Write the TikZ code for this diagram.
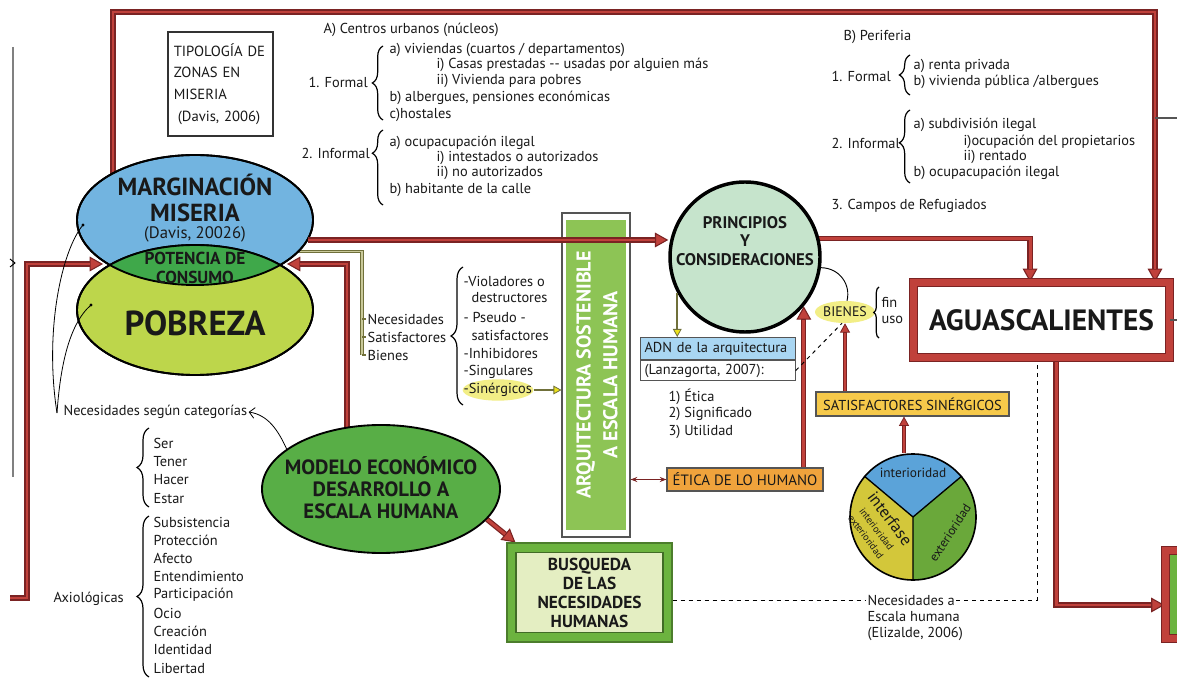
\documentclass[tikz,border=0pt]{standalone}
\usepackage{fontspec}
\setmainfont{PT Sans}
\usetikzlibrary{arrows.meta,decorations.pathreplacing,shapes.geometric,backgrounds}

\definecolor{rojo}{HTML}{C0413B}
\definecolor{rojoosc}{HTML}{7A2323}
\definecolor{azulmar}{HTML}{72B4E0}
\definecolor{verdepob}{HTML}{BDD64B}
\definecolor{verdecons}{HTML}{3FA84A}
\definecolor{verdemod}{HTML}{58AE46}
\definecolor{verdeprin}{HTML}{C6E4CC}
\definecolor{verdearq}{HTML}{8DC455}
\definecolor{verdecaja}{HTML}{6CB33F}
\definecolor{verdeclaro}{HTML}{E4EEC2}
\definecolor{olivo}{HTML}{70703A}
\definecolor{olivoclaro}{HTML}{C9C99A}
\definecolor{azuladn}{HTML}{A9D6F2}
\definecolor{naranja}{HTML}{F0A33C}
\definecolor{amarillo}{HTML}{F6C94A}
\definecolor{amarillob}{HTML}{F2EE86}
\definecolor{azulsec}{HTML}{5BA3D9}
\definecolor{amarillosec}{HTML}{D3C73A}
\definecolor{verdesec}{HTML}{6AA83A}
\definecolor{grisl}{HTML}{555555}

\begin{document}
\begin{tikzpicture}[x=0.75pt, y=0.75pt, font=\fontsize{10.8}{13}\selectfont, text=black!90,
  txt/.style={anchor=west, inner sep=1pt},
  caja/.style={draw=grisl, line width=0.8pt, inner sep=2pt},
  llave/.style={decorate, decoration={brace, amplitude=#1}, line width=0.9pt},
  llave/.default=8pt,
  flecha/.style={draw=rojoosc, line width=4pt, line join=miter,
    -{Triangle[length=10pt, width=11pt, line width=0.8pt, fill=rojo]},
    postaction={draw=rojo, line width=2.2pt, line join=miter, shorten >=10pt, arrows=-}},
  flechafina/.style={draw=rojoosc, line width=2.6pt,
    -{Triangle[length=7pt, width=7.5pt, line width=0.6pt, fill=rojo]},
    postaction={draw=rojo, line width=1.1pt, shorten >=7pt, arrows=-}},
  olivolinea/.style={draw=olivo, line width=2.4pt, line join=miter,
    postaction={draw=olivoclaro, line width=0.9pt}},
  olivoflecha/.style={draw=olivo, line width=1.8pt,
    -{Triangle[length=6pt, width=6.5pt, line width=0.6pt, fill=yellow!85!olivo]}},
  punteada/.style={dashed, line width=0.7pt}]
\useasboundingbox (0,0) rectangle (1177,-680);

% Tipología de zonas en miseria
\node[draw=black!80, line width=2.2pt, minimum width=78.75pt, minimum height=78pt,
  align=left, text width=70pt, inner xsep=3pt, font=\fontsize{11}{16.3}\selectfont] (tipo) at (220.5,-84)
  {TIPOLOGÍA DE\\ZONAS EN\\MISERIA\\\hspace*{3pt}(Davis, 2006)};

% A) Centros urbanos
\node[txt] (cenA) at (322,-30) {A) Centros urbanos (núcleos)};
\node[txt] (forA) at (307,-82) {1. Formal};
\node[txt] (forA1) at (388,-50) {a) viviendas (cuartos / departamentos)};
\node[txt] (forA2) at (435,-65) {i) Casas prestadas -{}- usadas por alguien más};
\node[txt] (forA3) at (435,-81) {ii) Vivienda para pobres};
\node[txt] (forA4) at (388,-98) {b) albergues, pensiones económicas};
\node[txt] (forA5) at (388,-115) {c)hostales};
\draw[llave] (383,-120) -- (383,-46);
\node[txt] (infA) at (300,-153) {2. Informal};
\node[txt] (infA1) at (388,-143) {a) ocupacupación ilegal};
\node[txt] (infA2) at (435,-158) {i) intestados o autorizados};
\node[txt] (infA3) at (435,-173) {ii) no autorizados};
\node[txt] (infA4) at (388,-190) {b) habitante de la calle};
\draw[llave, decoration={aspect=0.69}] (383,-205) -- (383,-130);

% B) Periferia
\node[txt] (cenB) at (842,-37) {B) Periferia};
\node[txt] (forB) at (830,-76) {1. Formal};
\node[txt] (forB1) at (912,-66) {a) renta privada};
\node[txt] (forB2) at (912,-82) {b) vivienda pública /albergues};
\draw[llave] (910,-95) -- (910,-55);
\node[txt] (infB) at (830,-143) {2. Informal};
\node[txt] (infB1) at (912,-125) {a) subdivisión ilegal};
\node[txt] (infB2) at (962,-142) {i)ocupación del propietarios};
\node[txt] (infB3) at (962,-157) {ii) rentado};
\node[txt] (infB4) at (912,-173) {b) ocupacupación ilegal};
\draw[llave, decoration={aspect=0.55}] (910,-183) -- (910,-110);
\node[txt] (refB) at (830,-206) {3. Campos de Refugiados};

% Marginación / Pobreza
\node[ellipse, draw, line width=1.4pt, fill=azulmar, minimum width=177pt, minimum height=97.5pt, inner sep=0] (marg) at (195,-220) {};
\node[ellipse, draw, line width=1.4pt, fill=verdepob, minimum width=177pt, minimum height=97.5pt, inner sep=0] (pob) at (195,-310) {};
\begin{scope}
  \clip (marg.center) ellipse [x radius=118, y radius=65];
  \fill[verdecons] (pob.center) ellipse [x radius=118, y radius=65];
\end{scope}
\draw[line width=1.4pt] (marg.center) ellipse [x radius=118, y radius=65]
  (pob.center) ellipse [x radius=118, y radius=65];
\node[font=\fontsize{18.5}{19}\selectfont\bfseries, align=center] (margt) at (195,-198) {MARGINACIÓN\\MISERIA};
\node[font=\fontsize{12.5}{14}\selectfont] (davis) at (195,-234) {(Davis, 20026)};
\node[font=\fontsize{13}{14.3}\selectfont\bfseries, align=center] (pot) at (195,-268) {POTENCIA DE\\CONSUMO};
\node[font=\fontsize{26}{28}\selectfont\bfseries] (pobt) at (195,-323) {POBREZA};

% Necesidades, satisfactores, bienes
\node[txt] (necs) at (366,-319) {Necesidades};
\node[txt] (satf) at (366,-337) {Satisfactores};
\node[txt] (bien) at (366,-355) {Bienes};
\draw[llave=9pt] (463,-405) -- (463,-267);
\node[txt] (viol) at (462,-281) {-Violadores o};
\node[txt] (dest) at (470,-298) {destructores};
\node[txt] (pseu) at (462,-317) {- Pseudo -};
\node[txt] (psat) at (470,-335) {satisfactores};
\node[txt] (inhi) at (462,-353) {-Inhibidores};
\node[txt] (sing) at (462,-372) {-Singulares};
\node[ellipse, fill=amarillob, minimum width=53pt, minimum height=16pt, inner sep=0] (sin) at (498,-390) {};
\node[txt] (sint) at (462,-390) {-Sinérgicos};

% Principios y consideraciones
\node[circle, draw, line width=2.6pt, fill=verdeprin, minimum size=112.5pt, inner sep=0] (prin) at (745,-257) {};
\node[font=\fontsize{12.6}{14}\selectfont\bfseries, align=center] (print) at (745,-241) {PRINCIPIOS\\Y\\CONSIDERACIONES};

% Arquitectura sostenible
\node[draw=grisl, line width=0.8pt, fill=white, minimum width=51pt, minimum height=243pt, inner sep=0] (arq) at (596,-375) {};
\node[fill=verdearq, minimum width=45pt, minimum height=233pt, inner sep=0] (arqin) at (arq.center) {};
\node[rotate=90, font=\fontsize{15}{20}\selectfont\bfseries, text=white, align=center] (arqt) at (597,-375) {ARQUITECTURA SOSTENIBLE\\A ESCALA HUMANA};

% ADN de la arquitectura
\node[caja, fill=azuladn, anchor=north west, text width=110pt, minimum height=16.5pt, inner xsep=3pt, align=left] (adn1) at (640,-337) {ADN de la arquitectura};
\node[caja, fill=white, anchor=north west, text width=110pt, minimum height=15pt, inner xsep=3pt, align=left] (adn2) at (adn1.south west) {(Lanzagorta, 2007):};
\node[txt] (eti1) at (667,-397) {1) Ética};
\node[txt] (eti2) at (667,-414) {2) Significado};
\node[txt] (eti3) at (667,-432) {3) Utilidad};

% Bienes: fin / uso
\node[ellipse, fill=amarillob, minimum width=45pt, minimum height=16.5pt, inner sep=0] (bienes) at (845,-312) {};
\node[font=\fontsize{10.4}{12}\selectfont] (bienest) at (bienes.center) {BIENES};
\draw[llave=4pt] (879,-338) -- (879,-287);
\node[txt] (fin) at (880,-302) {fin};
\node[txt] (uso) at (880,-320) {uso};

% Satisfactores y ética
\node[caja, fill=amarillo, minimum width=144.75pt, minimum height=18pt, font=\fontsize{10.8}{12}\selectfont] (satsin) at (912.5,-404) {SATISFACTORES SINÉRGICOS};
\node[caja, fill=naranja, minimum width=117pt, minimum height=17.25pt, font=\fontsize{11.2}{13}\selectfont] (etica) at (745,-479.5) {ÉTICA DE LO HUMANO};

% Círculo interioridad / exterioridad
\coordinate (cc) at (913,-517);
\fill[azulsec] (cc) -- ++(40:63) arc[start angle=40, end angle=140, radius=63] -- cycle;
\fill[amarillosec] (cc) -- ++(140:63) arc[start angle=140, end angle=270, radius=63] -- cycle;
\fill[verdesec] (cc) -- ++(270:63) arc[start angle=270, end angle=400, radius=63] -- cycle;
\node[circle, draw, line width=1.2pt, minimum size=94.5pt, inner sep=0] (circ) at (cc) {};
\draw[line width=1pt] (circ.40) -- (circ.center) -- (circ.140) (circ.center) -- (circ.south);
\node[font=\fontsize{10}{12}\selectfont] (inte) at (913,-473) {interioridad};
\node[rotate=-53, align=center, inner sep=0] (ifase) at (879,-527)
  {{\fontsize{12.5}{12}\selectfont interfase}\\[-2pt]{\fontsize{7.5}{7}\selectfont interioridad}\\[-3pt]{\fontsize{7.5}{7}\selectfont exterioridad}};
\node[rotate=57, font=\fontsize{9.5}{11}\selectfont] (exte) at (950,-533) {exterioridad};

% Aguascalientes
\node[draw=rojoosc, double=rojo, double distance=5.25pt, line width=0.75pt, fill=white, minimum width=192pt, minimum height=56.25pt, font=\fontsize{22}{24}\selectfont\bfseries] (agua) at (1041.5,-320) {AGUASCALIENTES};
\node[draw=rojoosc, double=rojo, double distance=5.25pt, line width=0.75pt, fill=verdecaja, minimum width=60pt, minimum height=66pt] (cajaR) at (1205,-594) {};

% Modelo económico
\node[ellipse, draw, line width=1.4pt, fill=verdemod, minimum width=178.5pt, minimum height=96pt, inner sep=0] (modelo) at (381,-489) {};
\node[align=center, font=\fontsize{15.5}{16.5}\selectfont\bfseries] (modelot) at (381,-488) {MODELO ECONÓMICO\\DESARROLLO A\\ESCALA HUMANA};

% Busqueda de las necesidades
\node[draw=verdecaja!70!black, line width=0.8pt, fill=verdecaja, minimum width=123.75pt, minimum height=74.25pt] (busq) at (589.5,-592.5) {};
\node[draw=verdecaja!60!black, line width=0.8pt, fill=verdeclaro, minimum width=110.25pt, minimum height=60pt, align=center, font=\fontsize{13}{14.25}\selectfont\bfseries] (busqt) at (busq.center) {BUSQUEDA\\DE LAS\\NECESIDADES\\HUMANAS};
\node[txt] (na) at (866,-600) {Necesidades a};
\node[txt] (eh1) at (866,-617) {Escala humana};
\node[txt] (eh2) at (866,-634) {(Elizalde, 2006)};

% Necesidades según categorías
\node[txt] (nsc) at (62,-412) {Necesidades según categorías};
\foreach \t [count=\i] in {Ser,Tener,Hacer,Estar}
  \node[txt] (cat\i) at (152,{-443-18.5*(\i-1)}) {\t};
\draw[llave=9pt] (149,-507) -- (149,-428);
\foreach \t [count=\i] in {Subsistencia,Protección,Afecto,Entendimiento,Participación,Ocio,Creación,Identidad,Libertad}
  \node[txt] (axi\i) at (152,{-522-18.25*(\i-1)}) {\t};
\draw[llave=9pt] (149,-677) -- (149,-516);
\node[txt] (axio) at (52,-599) {Axiológicas};

% Conectores de fondo
\coordinate (esqD) at (1155,-12);
\coordinate (izq) at (10,-598);
\coordinate (juntaI) at (103,-264);
\coordinate (juntaD) at (287,-264);
\begin{scope}[on background layer]
  \fill[white] (0,0) rectangle (1177,-680);
  \draw[flecha] ([xshift=-61.5pt]marg.center) |- (esqD) -- (esqD |- agua.north);
  \draw[flecha] (prin.14) -| ([xshift=-8.6pt]agua.north);
  \draw[flecha] ([xshift=10.9pt]agua.south) |- ([yshift=-8.25pt]cajaR.west);
  \draw[flecha] (izq) -- ++(17,0) |- (juntaI);
  \draw[flecha] ([xshift=-25.5pt]modelo.center) |- (juntaD);
  \draw[flecha] (modelo.-16) -- ([xshift=6.75pt]busq.north west);
  \draw[flecha] (etica.north -| prin.-40) -- (prin.-40);
  \draw[olivolinea] (marg.-17) -| ([xshift=-3pt]bien.west);
  \draw[punteada] (na.east) -| ([xshift=-3.4pt]agua.south);
\end{scope}

% Conectores
\draw[flecha] (marg.-10) -- (marg.-10 -| prin.west);
\foreach \n in {necs,satf,bien}
  \draw[olivo, line width=0.8pt] ([xshift=-3pt]\n.west) -- (\n.west);
\draw[olivoflecha] (sin.east) -- (sin.east -| arq.west);
\draw[olivoflecha] (prin.208) -- (prin.208 |- adn1.north);
\draw[punteada] (adn2.east) -- (bienes.255);
\draw[line width=0.7pt] (prin.-8) .. controls (840,-268) and (851,-285) .. (bienes.80);
\draw[flechafina] (bienes.south |- satsin.north) -- (bienes.south);
\draw[flechafina] ([xshift=-6.75pt]circ.north) -- ([xshift=-6.75pt]circ.north |- satsin.south);
\draw[{Stealth[length=5pt]}-{Stealth[length=5pt]}, rojoosc, line width=1.2pt] (etica.west -| arq.east) -- (etica.west);
\draw[punteada] (busq.east |- na.west) -- (na.west);
\draw[line width=0.6pt, -{Straight Barb[length=4pt]}] (modelo.157) .. controls (278,-430) and (268,-415) .. (nsc.east);

% Curvas hacia las elipses
\coordinate (vtip) at (57,-413);
\coordinate (p1) at (83,-225);
\coordinate (p2) at (91,-305);
\fill (p1) circle (1.6) (p2) circle (1.6);
\draw[line width=0.6pt] (vtip) .. controls (44,-330) and (62,-250) .. (p1);
\draw[line width=0.6pt] (vtip) .. controls (60,-370) and (68,-325) .. (p2);

% Bordes que salen del cuadro
\draw[gray, line width=0.8pt] (13,-47) -- (13,-477);
\draw[line width=0.7pt] (10,-259) -- (15,-263) -- (10,-267);
\draw[grisl, line width=1.2pt] (esqD |- 0,-118) -- (1177,-118);
\draw[grisl, line width=1.2pt] (agua.east) -- (1177,-320);
\end{tikzpicture}
\end{document}
